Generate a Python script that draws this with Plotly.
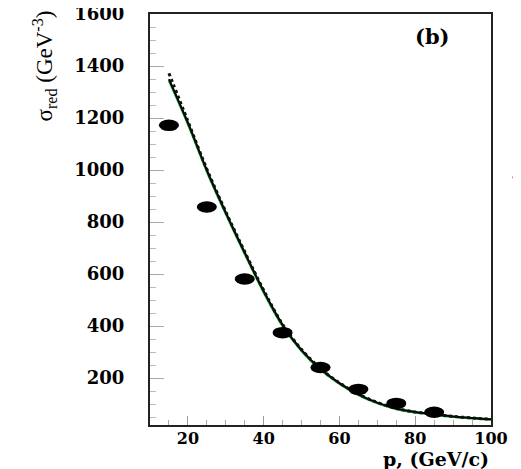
import plotly.graph_objects as go

# data points (reduced cross section)
p_data = [15, 25, 35, 45, 55, 65, 75, 85]
sigma_data = [1172, 858, 581, 375, 241, 157, 103, 69]

# model curves
p_curve = [15, 20, 25, 30, 35, 40, 45, 50, 55, 60, 65, 70, 75, 80, 85, 90, 95, 100]
sigma_solid = [1350, 1182, 1000, 837, 683, 535, 405, 308, 236, 181, 138, 106, 83, 70, 61, 53, 47, 42]
sigma_dotted = [1372, 1188, 1004, 840, 686, 538, 407, 310, 237, 182, 139, 107, 84, 70, 61, 53, 47, 42]
sigma_green = [1345, 1178, 996, 833, 679, 531, 401, 305, 233, 179, 136, 104, 82, 69, 60, 52, 46, 41]

x_ticks = [20, 40, 60, 80, 100]
y_ticks = [200, 400, 600, 800, 1000, 1200, 1400, 1600]

FONT = "DejaVu Serif"

fig = go.Figure()
fig.add_trace(go.Scatter(x=p_curve, y=sigma_green, mode="lines", line=dict(color="#1fae3a", width=2.6, shape="spline"), showlegend=False, hoverinfo="skip"))
fig.add_trace(go.Scatter(x=p_curve, y=sigma_solid, mode="lines", line=dict(color="black", width=2, shape="spline"), showlegend=False))
fig.add_trace(go.Scatter(x=p_curve, y=sigma_dotted, mode="lines", line=dict(color="#111111", width=3, dash="dot", shape="spline"), showlegend=False))
fig.add_trace(go.Scatter(x=p_data, y=sigma_data, mode="markers", marker=dict(color="rgba(0,0,0,0)", size=1), showlegend=False))

# elliptical markers (drawn in data coordinates from the data arrays)
dx, dy = 2.65, 22
shapes = []
for xv, yv in zip(p_data, sigma_data):
    shapes.append(dict(type="circle", xref="x", yref="y", x0=xv - dx, x1=xv + dx, y0=yv - dy, y1=yv + dy,
                       fillcolor="black", line=dict(color="black", width=0), layer="above"))
# small clipped legend fragment outside the frame
shapes.append(dict(type="line", xref="paper", yref="paper", x0=1.067, x1=1.067, y0=0.613, y1=0.652,
                   line=dict(color="#5fc98a", width=1.2)))
shapes.append(dict(type="line", xref="paper", yref="paper", x0=1.064, x1=1.066, y0=0.600, y1=0.606,
                   line=dict(color="#ee5555", width=1.5)))

fig.update_layout(
    width=521, height=469,
    margin=dict(l=142, r=38, t=6, b=52),
    plot_bgcolor="white", paper_bgcolor="white",
    shapes=shapes,
    xaxis=dict(range=[10, 100], tickvals=x_ticks, ticktext=[str(v) for v in x_ticks], automargin=False,
               ticks="inside", ticklen=9, tickcolor="#999999", tickwidth=1, ticklabeloverflow="allow",
               minor=dict(dtick=5, tick0=0, ticks="inside", ticklen=5, tickcolor="#aaaaaa"),
               showline=True, linecolor="#222222", linewidth=2, mirror=True, showgrid=False, zeroline=False,
               tickfont=dict(family=FONT, size=16, color="black", weight="bold"), ticklabelstandoff=-2),
    yaxis=dict(range=[20, 1600], tickvals=y_ticks, ticktext=[str(v) for v in y_ticks], automargin=False,
               ticks="inside", ticklen=14, tickcolor="#aaaaaa", tickwidth=1, ticklabeloverflow="allow",
               minor=dict(dtick=50, tick0=0, ticks="inside", ticklen=6, tickcolor="#bbbbbb"),
               showline=True, linecolor="#222222", linewidth=2, mirror=True, showgrid=False, zeroline=False,
               tickfont=dict(family=FONT, size=18, color="black", weight="bold"), ticklabelstandoff=20),
    annotations=[
        dict(text="<b>(b)</b>", xref="paper", yref="paper", x=(432 - 150) / 341, y=(425 - 36) / 411,
             xanchor="center", yanchor="middle", showarrow=False, font=dict(family=FONT, size=21, color="black")),
        dict(text="<b>p, (GeV/c)</b>", xref="paper", yref="paper", x=1.0, y=(425 - 459) / 411,
             xanchor="right", yanchor="middle", showarrow=False, font=dict(family=FONT, size=19, color="black")),
        dict(text="σ<sub>red</sub> (GeV<sup>-3</sup>)", xref="paper", yref="paper", x=(44 - 150) / 341,
             y=(425 - 9) / 411, xanchor="center", yanchor="top", textangle=-90, showarrow=False,
             font=dict(family="Liberation Serif", size=23, color="black")),
    ],
)

fig.write_html("out.html")
